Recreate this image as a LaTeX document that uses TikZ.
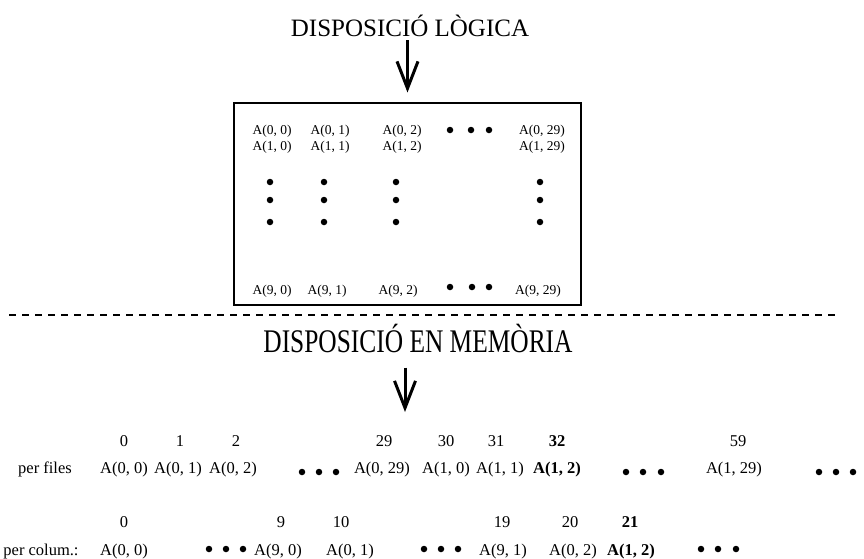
\documentclass[tikz,border=0pt]{standalone}
\usepackage{fontspec}
\setmainfont{Liberation Serif}
\usetikzlibrary{arrows.meta,calc}

\tikzset{
  title/.style={inner sep=0pt, anchor=base, font=\fontsize{25}{28}\selectfont},
  cell/.style={inner sep=0pt, anchor=base, font=\fontsize{13.5}{15}\selectfont},
  mem/.style={inner sep=0pt, anchor=base, font=\fontsize{16.5}{18}\selectfont},
  idx/.style={inner sep=0pt, anchor=base, font=\fontsize{16.5}{18}\selectfont},
  dotmark/.style={circle, fill=black, draw=none, inner sep=0pt, minimum size=6.5pt},
  bigarrow/.style={line width=3pt,
    -{Straight Barb[length=27pt, width=21pt, line width=3pt]}},
  frame/.style={draw=black, line width=2pt, inner sep=0pt},
  sep/.style={line width=1.3pt, dash pattern=on 7pt off 6pt},
}

\begin{document}
\begin{tikzpicture}[x=1pt,y=-1pt]
  \useasboundingbox (0,0) rectangle (864,558);

  % ---- logical layout ----
  \node[title] (t1) at (410,36) {DISPOSICIÓ LÒGICA};
  \node[frame, minimum width=347pt, minimum height=202pt] (box) at (407.5,203.5) {};
  \draw[bigarrow, shorten <=4pt, shorten >=9pt] (t1.south -| box.north) -- (box.north);

  % first two rows
  \node[cell] (a00) at (272,134) {A(0, 0)};
  \node[cell] (a01) at (330,134) {A(0, 1)};
  \node[cell] (a02) at (402,134) {A(0, 2)};
  \node[cell] (a029) at (542,134) {A(0, 29)};
  \node[cell] (a10) at (272,150) {A(1, 0)};
  \node[cell] (a11) at (330,150) {A(1, 1)};
  \node[cell] (a12) at (402,150) {A(1, 2)};
  \node[cell] (a129) at (542,150) {A(1, 29)};
  \node[dotmark] (r0d1) at (450,130) {};
  \node[dotmark] (r0d2) at (471,130) {};
  \node[dotmark] (r0d3) at (489,130) {};

  % vertical ellipses
  \node[dotmark] (c0d1) at (270,182) {};
  \node[dotmark] (c0d2) at (270,200) {};
  \node[dotmark] (c0d3) at (270,222) {};
  \node[dotmark] (c1d1) at (324,182) {};
  \node[dotmark] (c1d2) at (324,200) {};
  \node[dotmark] (c1d3) at (324,222) {};
  \node[dotmark] (c2d1) at (396,182) {};
  \node[dotmark] (c2d2) at (396,200) {};
  \node[dotmark] (c2d3) at (396,222) {};
  \node[dotmark] (c3d1) at (540,182) {};
  \node[dotmark] (c3d2) at (540,200) {};
  \node[dotmark] (c3d3) at (540,222) {};

  % last row
  \node[cell] (a90) at (272,294) {A(9, 0)};
  \node[cell] (a91) at (327,294) {A(9, 1)};
  \node[cell] (a92) at (398,294) {A(9, 2)};
  \node[cell] (a929) at (538,294) {A(9, 29)};
  \node[dotmark] (r9d1) at (450,287) {};
  \node[dotmark] (r9d2) at (472,287) {};
  \node[dotmark] (r9d3) at (489,287) {};

  % ---- separator ----
  \coordinate (sepl) at (9,315);
  \coordinate (sepr) at (837,315);
  \draw[sep] (sepl) -- (sepr);

  % ---- memory layout ----
  \node[inner sep=0pt, anchor=base, font=\fontsize{33}{36}\selectfont] (t2) at (418,352)
    {\scalebox{0.77}[1]{DISPOSICIÓ EN MEMÒRIA}};
  \coordinate (memtop) at (405,412);
  \draw[bigarrow, shorten <=15pt] (t2.south -| memtop) -- (memtop);

  % row-major order
  \node[mem] (pf) at (45,473) {per files};
  \node[mem] (f1) at (124,473) {A(0, 0)};
  \node[mem] (f2) at (178,473) {A(0, 1)};
  \node[mem] (f3) at (233,473) {A(0, 2)};
  \node[dotmark] (fd1) at (302,472) {};
  \node[dotmark] (fd2) at (319,472) {};
  \node[dotmark] (fd3) at (336,472) {};
  \node[mem] (f4) at (382,473) {A(0, 29)};
  \node[mem] (f5) at (446,473) {A(1, 0)};
  \node[mem] (f6) at (500,473) {A(1, 1)};
  \node[mem] (f7) at (557,473) {\bfseries A(1, 2)};
  \node[dotmark] (fd4) at (626,472) {};
  \node[dotmark] (fd5) at (643,472) {};
  \node[dotmark] (fd6) at (661,472) {};
  \node[mem] (f8) at (734,473) {A(1, 29)};
  \node[dotmark] (fd7) at (819,472) {};
  \node[dotmark] (fd8) at (836,472) {};
  \node[dotmark] (fd9) at (853,472) {};

  \node[idx] (fi1) at (124,446) {0};
  \node[idx] (fi2) at (180,446) {1};
  \node[idx] (fi3) at (236,446) {2};
  \node[idx] (fi4) at (384,446) {29};
  \node[idx] (fi5) at (446,446) {30};
  \node[idx] (fi6) at (496,446) {31};
  \node[idx] (fi7) at (557,446) {\bfseries 32};
  \node[idx] (fi8) at (738,446) {59};

  % column-major order
  \node[mem] (pc) at (41,555) {per colum.:};
  \node[mem] (c1) at (124,555) {A(0, 0)};
  \node[dotmark] (cd1) at (209,549) {};
  \node[dotmark] (cd2) at (226,549) {};
  \node[dotmark] (cd3) at (243,549) {};
  \node[mem] (c2) at (278,555) {A(9, 0)};
  \node[mem] (c3) at (350,555) {A(0, 1)};
  \node[dotmark] (cd4) at (424,549) {};
  \node[dotmark] (cd5) at (441,549) {};
  \node[dotmark] (cd6) at (458,549) {};
  \node[mem] (c4) at (503,555) {A(9, 1)};
  \node[mem] (c5) at (573,555) {A(0, 2)};
  \node[mem] (c6) at (631,555) {\bfseries A(1, 2)};
  \node[dotmark] (cd7) at (701,549) {};
  \node[dotmark] (cd8) at (718,549) {};
  \node[dotmark] (cd9) at (736,549) {};

  \node[idx] (ci1) at (124,527) {0};
  \node[idx] (ci2) at (281,527) {9};
  \node[idx] (ci3) at (341,527) {10};
  \node[idx] (ci4) at (502,527) {19};
  \node[idx] (ci5) at (570,527) {20};
  \node[idx] (ci6) at (630,527) {\bfseries 21};
\end{tikzpicture}
\end{document}
